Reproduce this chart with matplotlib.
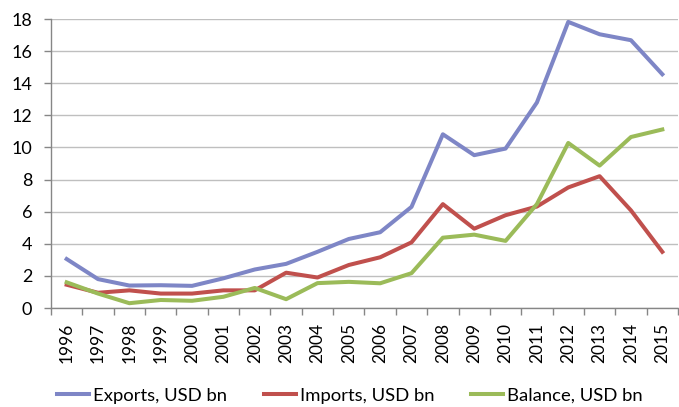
import numpy as np
import matplotlib.pyplot as plt
from matplotlib.ticker import FixedLocator

plt.rcParams['font.family'] = ['Lato', 'DejaVu Sans']

years = [str(y) for y in range(1996, 2016)]
exports = [3.05, 1.8, 1.4, 1.42, 1.38, 1.85, 2.4, 2.75, 3.5, 4.3,
           4.72, 6.3, 10.82, 9.52, 9.93, 12.8, 17.82, 17.05, 16.68, 14.56]
imports = [1.45, 0.95, 1.1, 0.9, 0.9, 1.1, 1.1, 2.2, 1.9, 2.68,
           3.16, 4.09, 6.47, 4.94, 5.78, 6.32, 7.51, 8.21, 6.08, 3.5]
balance = [1.6, 0.9, 0.3, 0.5, 0.45, 0.7, 1.25, 0.55, 1.55, 1.63,
           1.54, 2.17, 4.38, 4.57, 4.18, 6.47, 10.28, 8.87, 10.65, 11.12]

x = np.arange(len(years))

fig = plt.figure(figsize=(6.79, 4.07), dpi=100)
ax = fig.add_axes([0.0751, 0.2432, 0.9234, 0.7101])

ax.plot(x, exports, color='#7E86C6', lw=2.9, label='Exports, USD bn', solid_joinstyle='round')
ax.plot(x, imports, color='#C0504D', lw=2.9, label='Imports, USD bn', solid_joinstyle='round')
ax.plot(x, balance, color='#9BBB59', lw=2.9, label='Balance, USD bn', solid_joinstyle='round')

ax.set_xlim(-0.5, len(years) - 0.5)
ax.set_ylim(0, 18)
ax.set_yticks(range(0, 19, 2))
ax.yaxis.grid(True, color='#BFBFBF', lw=1)
ax.set_axisbelow(True)

# year labels at category centres, tick marks at the boundaries
ax.set_xticks(x)
ax.set_xticklabels(years, rotation=90)
ax.xaxis.set_minor_locator(FixedLocator(np.arange(-0.5, len(years), 1)))
ax.tick_params(axis='x', which='major', length=0, pad=10.5, labelsize=12.5)
ax.tick_params(axis='x', which='minor', length=5, color='#868686', width=1)
ax.tick_params(axis='y', length=5, color='#868686', width=1, labelsize=13, pad=8.5)

for s in ['top', 'right']:
    ax.spines[s].set_visible(False)
for s in ['left', 'bottom']:
    ax.spines[s].set_color('#868686')
    ax.spines[s].set_linewidth(1)

fig.legend(loc='center', bbox_to_anchor=(0.515, 0.028), ncol=3, frameon=False,
           fontsize=13.3, handlelength=1.75, handletextpad=0.2, columnspacing=2.0,
           borderpad=0, borderaxespad=0)

fig.savefig('out.png', dpi=100)
